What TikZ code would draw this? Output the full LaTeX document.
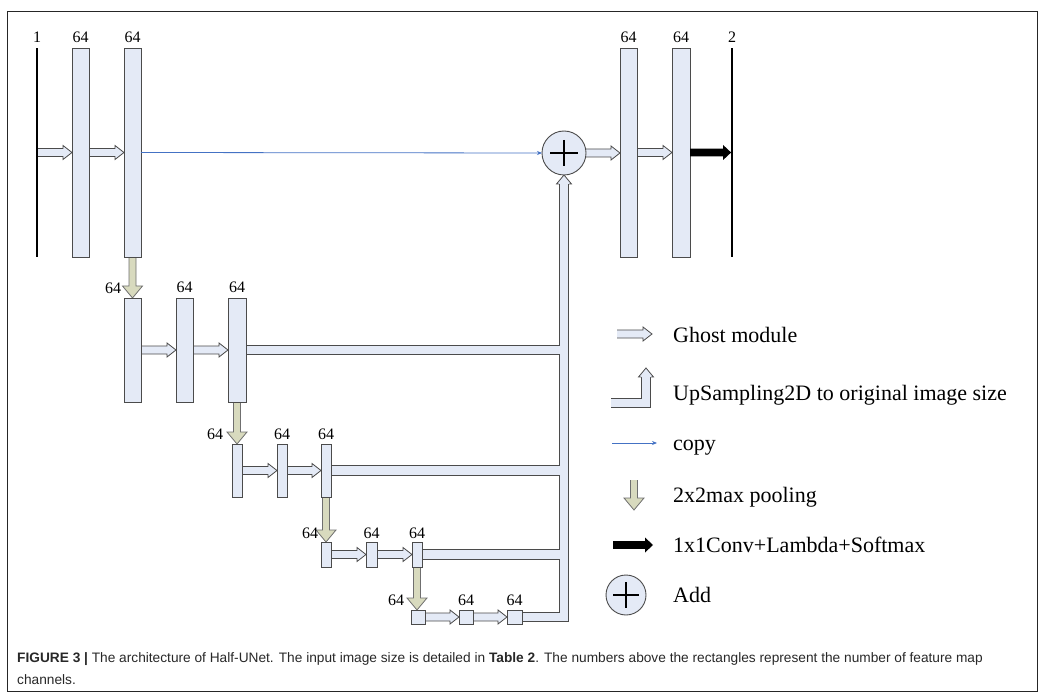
\documentclass[tikz,border=0pt]{standalone}
\usepackage{fontspec}
\setmainfont{Liberation Serif}
\newfontfamily\capfont{Liberation Sans}
\usetikzlibrary{calc,arrows.meta,backgrounds}
\definecolor{fmfill}{RGB}{228,234,246}
\definecolor{edge}{RGB}{75,75,75}
\definecolor{poolfill}{RGB}{216,218,190}
\definecolor{copyblue}{RGB}{68,114,196}
\definecolor{captext}{RGB}{40,40,40}
\tikzset{
  fm/.style={draw=edge, fill=fmfill, line width=0.9pt, inner sep=0pt, outer sep=0pt},
  iobar/.style={fill=black, inner sep=0pt, outer sep=0pt, minimum width=1.8pt, minimum height=209pt},
  ghoststyle/.style={draw=edge, fill=fmfill, line width=0.8pt, line join=miter},
  poolstyle/.style={draw=edge!80, fill=poolfill, line width=0.8pt},
  busout/.style={draw=edge, line width=10.4pt, line join=miter, line cap=butt},
  busin/.style={draw=fmfill, line width=8.6pt, line join=miter, line cap=butt},
  copyline/.style={draw=copyblue, line width=0.8pt, -{Stealth[length=5pt,width=4pt]}},
  lbl/.style={inner sep=0pt, font=\fontsize{16}{18}\selectfont},
  legtext/.style={inner sep=0pt, anchor=base west, font=\fontsize{22}{24}\selectfont},
  capsty/.style={inner sep=0pt, anchor=base west, text=captext, font=\capfont\fontsize{13.7}{15}\selectfont},
  addnode/.style={circle, draw=edge, fill=fmfill, line width=0.9pt, inner sep=0pt, outer sep=0pt},
  plusline/.style={draw=black, line width=1.3pt}
}
\newcommand\ghostarr[2]{%
  \path[ghoststyle] let \p1=(#1), \p2=(#2) in
    (\x1,{\y1+4pt}) -- ({\x2-9pt},{\y1+4pt}) -- ({\x2-9pt},{\y1+7pt}) -- (\x2,\y1)
    -- ({\x2-9pt},{\y1-7pt}) -- ({\x2-9pt},{\y1-4pt}) -- (\x1,{\y1-4pt});}
\newcommand\poolarr[2]{%
  \path[poolstyle] let \p1=(#1), \p2=(#2) in
    ({\x1-3.5pt},\y1) -- ({\x1-3.5pt},{\y2+12pt}) -- ({\x1-10pt},{\y2+12pt}) -- (\x1,\y2)
    -- ({\x1+10pt},{\y2+12pt}) -- ({\x1+3.5pt},{\y2+12pt}) -- ({\x1+3.5pt},\y1);}
\newcommand\convarr[2]{%
  \fill[black] let \p1=(#1), \p2=(#2) in
    (\x1,{\y1+3.8pt}) -- ({\x2-8pt},{\y1+3.8pt}) -- ({\x2-8pt},{\y1+7.5pt}) -- (\x2,\y1)
    -- ({\x2-8pt},{\y1-7.5pt}) -- ({\x2-8pt},{\y1-3.8pt}) -- (\x1,{\y1-3.8pt}) -- cycle;}
\newcommand\uphead[1]{%
  \path[ghoststyle] let \p1=(#1) in
    ({\x1-5pt},{\y1-9pt}) -- ({\x1-7.5pt},{\y1-9pt}) -- (\x1,\y1)
    -- ({\x1+7.5pt},{\y1-9pt}) -- ({\x1+5pt},{\y1-9pt});}
\begin{document}
\begin{tikzpicture}[x=1pt,y=-1pt]
\useasboundingbox (0,0) rectangle (1046,700);
\draw[line width=0.9pt, draw=black!85] (7,11) rectangle (1037,691);

% ---- level 0 ----
\node[iobar] (inp) at (37,152.5) {};
\node[fm, minimum width=17pt, minimum height=209pt] (A) at (80.5,152.5) {};
\node[fm, minimum width=17pt, minimum height=209pt] (B) at (132.5,152.5) {};
\node[addnode, minimum size=44pt] (add) at (564,153) {};
\node[fm, minimum width=17pt, minimum height=209pt] (C) at (628.5,152.5) {};
\node[fm, minimum width=18pt, minimum height=209pt] (D) at (681,152.5) {};
\node[iobar] (out) at (732,152.5) {};
\node[lbl] (l0a) at (37,37) {1};
\node[lbl] (l0b) at (80.5,37) {64};
\node[lbl] (l0c) at (132.5,37) {64};
\node[lbl] (l0d) at (628.5,37) {64};
\node[lbl] (l0e) at (681,37) {64};
\node[lbl] (l0f) at (732,37) {2};

% ---- level 1 ----
\node[fm, minimum width=17pt, minimum height=104pt] (E) at (132.5,350) {};
\node[fm, minimum width=17pt, minimum height=104pt] (F) at (184.5,350) {};
\node[fm, minimum width=18pt, minimum height=104pt] (G) at (237,350) {};
\node[lbl] (l1p) at (113,288) {64};
\node[lbl] (l1b) at (184.5,287) {64};
\node[lbl] (l1c) at (237,287) {64};

% ---- level 2 ----
\node[fm, minimum width=10pt, minimum height=53pt] (H) at (237,470.5) {};
\node[fm, minimum width=10pt, minimum height=53pt] (I) at (282,470.5) {};
\node[fm, minimum width=10pt, minimum height=53pt] (J) at (326,470.5) {};
\node[lbl] (l2p) at (215,434) {64};
\node[lbl] (l2b) at (282,434) {64};
\node[lbl] (l2c) at (326,434) {64};

% ---- level 3 ----
\node[fm, minimum width=10pt, minimum height=25pt] (K) at (326,554.5) {};
\node[fm, minimum width=11pt, minimum height=25pt] (L) at (371.5,554.5) {};
\node[fm, minimum width=10pt, minimum height=25pt] (M) at (417,554.5) {};
\node[lbl] (l3p) at (310,533) {64};
\node[lbl] (l3b) at (371.5,533) {64};
\node[lbl] (l3c) at (417,533) {64};

% ---- level 4 ----
\node[fm, minimum width=14pt, minimum height=14pt] (N) at (418,617) {};
\node[fm, minimum width=14pt, minimum height=14pt] (O) at (466,617) {};
\node[fm, minimum width=15pt, minimum height=14pt] (P) at (514.5,617) {};
\node[lbl] (l4p) at (396,600) {64};
\node[lbl] (l4b) at (466,600) {64};
\node[lbl] (l4c) at (514.5,600) {64};

\begin{pgfonlayer}{background}
% ---- upsampling bus ----
\foreach \s in {G,J,M} \draw[busout] (\s.east) -- (\s.east -| add.south);
\draw[busout] (P.east) -- (P.east -| add.south) -- ($(add.south)+(0,9)$);
\foreach \s in {G,J,M} \draw[busin] (\s.east) -- (\s.east -| add.south);
\draw[busin] (P.east) -- (P.east -| add.south) -- ($(add.south)+(0,9)$);
\uphead{add.south}

% ---- ghost modules ----
\ghostarr{inp.center}{A.west}
\ghostarr{A.east}{B.west}
\ghostarr{add.east}{C.west}
\ghostarr{C.east}{D.west}
\ghostarr{E.east}{F.west}
\ghostarr{F.east}{G.west}
\ghostarr{H.east}{I.west}
\ghostarr{I.east}{J.west}
\ghostarr{K.east}{L.west}
\ghostarr{L.east}{M.west}
\ghostarr{N.east}{O.west}
\ghostarr{O.east}{P.west}

% ---- pooling ----
\poolarr{B.south}{E.north}
\poolarr{G.south}{H.north}
\poolarr{J.south}{K.north}
\poolarr{M.south}{N.north}
\end{pgfonlayer}

% ---- copy, conv, add ----
\draw[copyline] (B.east) -- (add.west);
\convarr{D.east}{out.west}
\draw[plusline] ($(add.center)+(-14,0)$) -- ($(add.center)+(14,0)$);
\draw[plusline] ($(add.center)+(0,-13)$) -- ($(add.center)+(0,13)$);

% ---- legend ----
\coordinate (g1) at (617,334); \coordinate (g2) at (652,334);
\ghostarr{g1}{g2}
\node[legtext] (t1) at (673,342) {Ghost module};
\coordinate (u1) at (611,403); \coordinate (u2) at (646,377); \coordinate (u3) at (646,368);
\draw[busout] (u1) -- (u1 -| u2) -- (u2);
\draw[busin] (u1) -- (u1 -| u2) -- (u2);
\uphead{u3}
\node[legtext] (t2) at (673,400) {UpSampling2D to original image size};
\coordinate (c1) at (612,443); \coordinate (c2) at (657,443);
\draw[copyline] (c1) -- (c2);
\node[legtext] (t3) at (673,450) {copy};
\coordinate (p1) at (634,480); \coordinate (p2) at (634,510);
\poolarr{p1}{p2}
\node[legtext] (t4) at (673,502) {2x2max pooling};
\coordinate (k1) at (613,545); \coordinate (k2) at (653,545);
\convarr{k1}{k2}
\node[legtext] (t5) at (673,552) {1x1Conv+Lambda+Softmax};
\node[addnode, minimum size=40pt] (ladd) at (626,595) {};
\draw[plusline] ($(ladd.center)+(-13,0)$) -- ($(ladd.center)+(13,0)$);
\draw[plusline] ($(ladd.center)+(0,-13)$) -- ($(ladd.center)+(0,13)$);
\node[legtext] (t6) at (673,602) {Add};

% ---- caption ----
\node[capsty] (cap1) at (17,662) {\textbf{FIGURE 3 |} The architecture of Half-UNet. The input image size is detailed in \textbf{Table 2}. The numbers above the rectangles represent the number of feature map};
\node[capsty] (cap2) at (17,684) {channels.};
\end{tikzpicture}
\end{document}
